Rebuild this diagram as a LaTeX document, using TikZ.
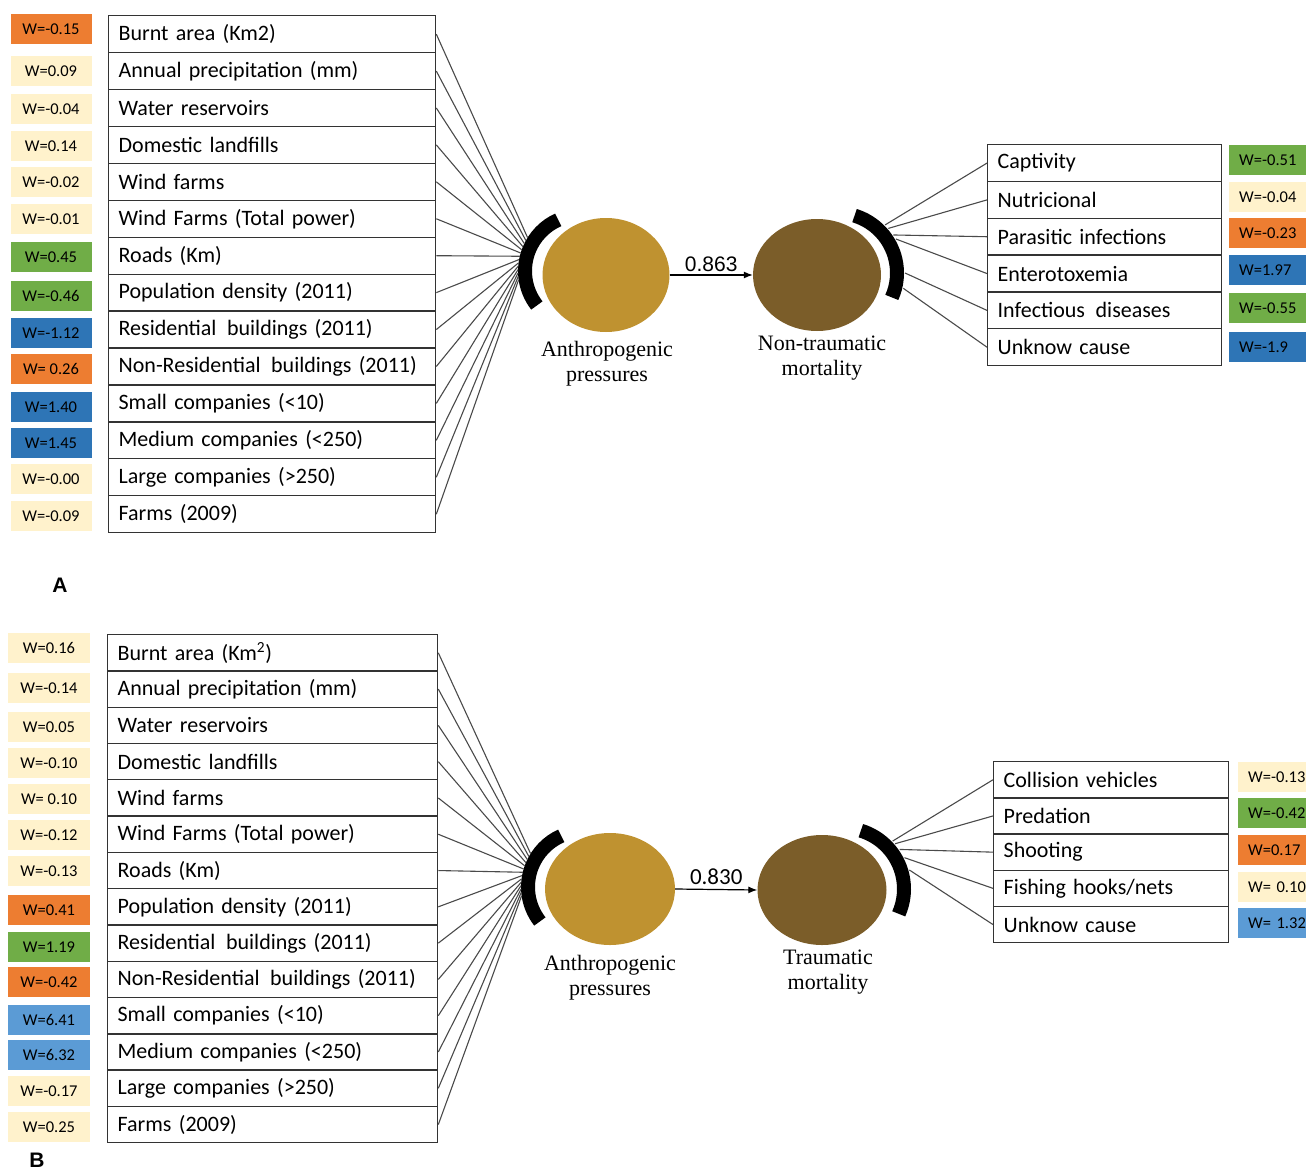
\documentclass[tikz,border=0pt]{standalone}
\usepackage{fontspec}
\setmainfont{Carlito}
\newfontfamily\timesf{Liberation Serif}
\newfontfamily\arialf{Liberation Sans}
\usetikzlibrary{shapes.geometric,arrows.meta}
\definecolor{wor}{HTML}{ED7D31}
\definecolor{wye}{HTML}{FFF2CC}
\definecolor{wgr}{HTML}{70AD47}
\definecolor{wbA}{HTML}{2E75B6}
\definecolor{wbB}{HTML}{5B9BD5}
\definecolor{ochre}{HTML}{BF9230}
\definecolor{umber}{HTML}{7B5D29}
\definecolor{boxgray}{HTML}{333333}
\definecolor{linegray}{HTML}{4A4A4A}
\newcommand{\wgap}{\hspace{0.15em} }
\begin{document}
\begin{tikzpicture}[x=1pt,y=-1pt,
  itembox/.style={draw=boxgray, line width=1.3pt, anchor=north west, inner xsep=10pt, inner ysep=0pt, align=left, font=\fontsize{22}{25}\selectfont},
  wbox/.style={inner sep=0pt, minimum height=30pt, font=\fontsize{16.5}{19}\selectfont},
  wleft/.style={wbox, minimum width=81pt},
  wright/.style={wbox, anchor=west, minimum width=90pt, text width=71pt, inner xsep=10pt, align=left},
  lat/.style={ellipse, inner sep=0pt, draw=none},
  lab/.style={anchor=north, inner sep=0pt, align=center, font=\timesf\fontsize{22}{25}\selectfont},
  conn/.style={draw=linegray, line width=1.1pt},
  bracket/.style={line width=14pt, black},
  path/.style={draw=black, line width=1.2pt, -{Latex[length=9pt,width=7pt]}},
  panel/.style={font=\arialf\bfseries\fontsize{21}{24}\selectfont, inner sep=0pt}
]
\useasboundingbox (0,0) rectangle (1306,1172);
\clip (0,0) rectangle (1306,1172);

% ================= PANEL A =================
\foreach \t [count=\i] in {Burnt area (Km2),Annual precipitation (mm),Water reservoirs,Domestic landfills,Wind farms,Wind Farms (Total power),Roads (Km),Population density (2011),Residential\wgap buildings (2011),Non-Residential\wgap buildings (2011),Small companies (<10),Medium companies (<250),Large companies (>250),Farms (2009)}
  \node[itembox, text width=307pt, minimum height=36.93pt] (a-l\i) at (108,{15+(\i-1)*36.93}) {\t};

\foreach \c/\w/\y [count=\i] in {wor/W=-0.15/29,wye/W=0.09/71,wye/W=-0.04/109,wye/W=0.14/146,wye/W=-0.02/182,wye/W=-0.01/219,wgr/W=0.45/257,wgr/W=-0.46/296,wbA/W=-1.12/333,wor/W= 0.26/369,wbA/W=1.40/407,wbA/W=1.45/443,wye/W=-0.00/479,wye/W=-0.09/516}
  \node[wleft, fill=\c] (a-w\i) at (51,\y) {\w};

\node[lat, fill=ochre, minimum width=127pt, minimum height=114pt] (a-ap) at (606,275) {};
\node[lat, fill=umber, minimum width=128pt, minimum height=112pt] (a-nt) at (817,275) {};
\node[lab] (a-apl) at (607,341) {Anthropogenic\\pressures};
\node[lab] (a-ntl) at (822,336) {Non-traumatic\\mortality};

\coordinate (a-lc) at (581,271);
\coordinate (a-rc) at (837,273);
\draw[bracket] (a-lc) ++(142:56) arc[start angle=142, end angle=246, radius=56];
\draw[bracket] (a-rc) ++(-73:60) arc[start angle=-73, end angle=24, radius=60];

\foreach \i in {1,...,14} {
  \path (a-lc) ++({212-(\i-1)*40/13}:63) coordinate (a-e\i);
  \draw[conn] (a-l\i.east) -- (a-e\i);
}

\draw[path] (a-ap.east) -- (a-nt.west) node[midway, above=3pt, font=\arialf\fontsize{21}{24}\selectfont, inner sep=0pt] (a-coef) {0.863};

\foreach \t [count=\i] in {Captivity,Nutricional,Parasitic infections,Enterotoxemia,Infectious\wgap diseases,Unknow cause}
  \node[itembox, text width=214pt, minimum height=36.83pt] (a-r\i) at (987,{144+(\i-1)*36.83}) {\t};

\foreach \c/\w/\y [count=\i] in {wgr/W=-0.51/160,wye/W=-0.04/197,wor/W=-0.23/233,wbA/W=1.97/270,wgr/W=-0.55/308,wbA/W=-1.9/347}
  \node[wright, fill=\c] (a-v\i) at (1229,\y) {\w};

\foreach \a [count=\i] in {-45,-41,-34,-30,0,13} {
  \path (a-rc) ++(\a:68) coordinate (a-s\i);
  \draw[conn] (a-s\i) -- (a-r\i.west);
}

\node[panel] (a-tag) at (60,585) {A};

% ================= PANEL B =================
\foreach \t [count=\i] in {Burnt area (Km\textsuperscript{2}),Annual precipitation (mm),Water reservoirs,Domestic landfills,Wind farms,Wind Farms (Total power),Roads (Km),Population density (2011),Residential\wgap buildings (2011),Non-Residential\wgap buildings (2011),Small companies (<10),Medium companies (<250),Large companies (>250),Farms (2009)}
  \node[itembox, text width=310pt, minimum height=36.29pt] (b-l\i) at (107,{634+(\i-1)*36.29}) {\t};

\foreach \c/\w/\y [count=\i] in {wye/W=0.16/648,wye/W=-0.14/688,wye/W=0.05/727,wye/W=-0.10/763,wye/W= 0.10/799,wye/W=-0.12/835,wye/W=-0.13/871,wor/W=0.41/910,wgr/W=1.19/947,wor/W=-0.42/982,wbB/W=6.41/1020,wbB/W=6.32/1055,wye/W=-0.17/1091,wye/W=0.25/1127}
  \node[wleft, fill=\c, minimum width=82pt] (b-w\i) at (49,\y) {\w};

\node[lat, fill=ochre, minimum width=130pt, minimum height=112pt] (b-ap) at (610,889) {};
\node[lat, fill=umber, minimum width=129pt, minimum height=110pt] (b-tm) at (822,890) {};
\node[lab] (b-apl) at (610,955) {Anthropogenic\\pressures};
\node[lab] (b-tml) at (828,950) {Traumatic\\mortality};

\coordinate (b-lc) at (584,887);
\coordinate (b-rc) at (843,889);
\draw[bracket] (b-lc) ++(142:56) arc[start angle=142, end angle=246, radius=56];
\draw[bracket] (b-rc) ++(-73:61) arc[start angle=-73, end angle=24, radius=61];

\foreach \i in {1,...,14} {
  \path (b-lc) ++({212-(\i-1)*40/13}:63) coordinate (b-e\i);
  \draw[conn] (b-l\i.east) -- (b-e\i);
}

\draw[path] (b-ap.east) -- (b-tm.west) node[midway, above=4pt, font=\fontsize{23}{26}\selectfont, inner sep=0pt] (b-coef) {0.830};

\foreach \t [count=\i] in {Collision vehicles,Predation,Shooting,Fishing hooks/nets,Unknow cause}
  \node[itembox, text width=215pt, minimum height=36.2pt] (b-r\i) at (993,{761+(\i-1)*36.2}) {\t};

\foreach \c/\w/\y [count=\i] in {wye/W=-0.13/777,wgr/W=-0.42/813,wor/W=0.17/850,wye/W= 0.10/887,wbB/W= 1.32/923}
  \node[wright, fill=\c] (b-v\i) at (1238,\y) {\w};

\foreach \a [count=\i] in {-44,-41,-35,-27,-16} {
  \path (b-rc) ++(\a:69) coordinate (b-s\i);
  \draw[conn] (b-s\i) -- (b-r\i.west);
}

\node[panel] (b-tag) at (37,1160) {B};
\end{tikzpicture}
\end{document}
